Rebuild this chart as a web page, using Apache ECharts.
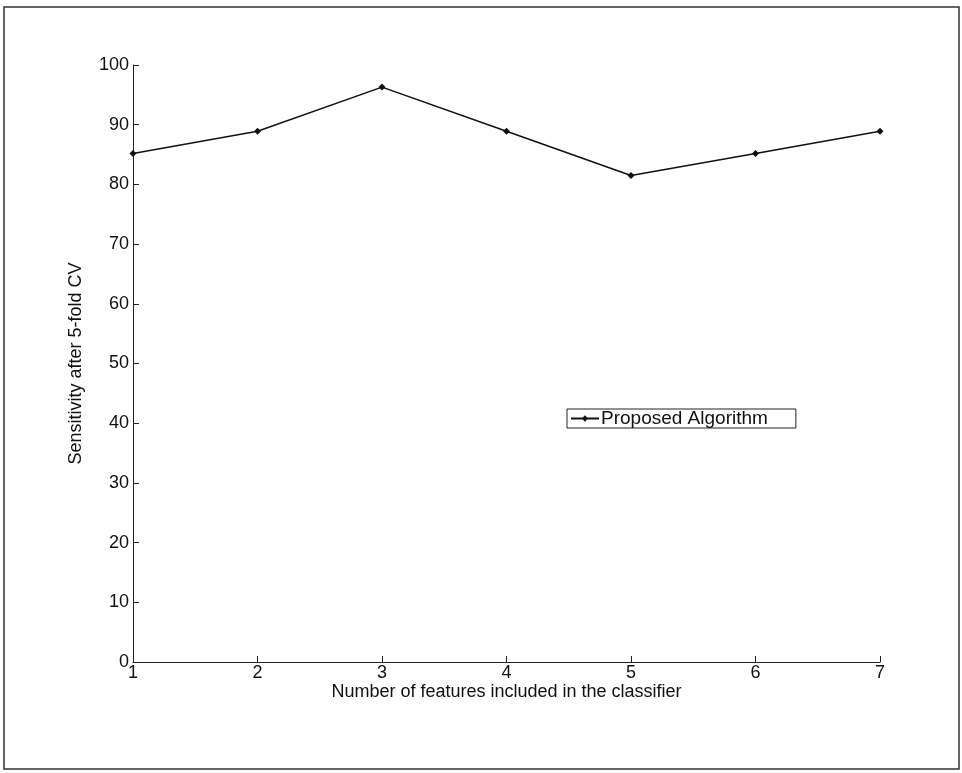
<!DOCTYPE html>
<html>
<head>
<meta charset="utf-8">
<script src="https://cdn.jsdelivr.net/npm/echarts@6/dist/echarts.min.js"></script>
<style>
  html, body { margin: 0; padding: 0; background: #fff; }
  #chart { width: 962px; height: 773px; }
</style>
</head>
<body>
<div id="chart"></div>
<script>
// number of features
const featureCounts = [1, 2, 3, 4, 5, 6, 7];
// sensitivity (%) after 5-fold CV
const sensitivity = [85.19, 88.89, 96.30, 88.89, 81.48, 85.19, 88.89];
const yTicks = [0, 10, 20, 30, 40, 50, 60, 70, 80, 90, 100];

const chart = echarts.init(document.getElementById('chart'));
const font = 'Liberation Sans, Arial, sans-serif';

const option = {
  backgroundColor: '#fff',
  animation: false,
  grid: { left: 133, right: 82, top: 65, bottom: 111 },
  legend: {
    left: 567,
    top: 409,
    data: ['Proposed Algorithm'],
    itemWidth: 28,
    itemHeight: 8,
    itemGap: 4,
    borderColor: '#222',
    borderWidth: 1,
    padding: [0, 28, 0, 3],
    textStyle: { fontFamily: font, fontSize: 19, color: '#111', padding: [0, 0, 0, -3] }
  },
  xAxis: {
    type: 'value',
    min: 1,
    max: 7,
    interval: 1,
    name: 'Number of features included in the classifier',
    nameLocation: 'middle',
    nameGap: 21,
    nameMoveOverlap: false,
    nameTextStyle: { fontFamily: font, fontSize: 18, color: '#111' },
    axisLine: { lineStyle: { color: '#222', width: 1 } },
    axisTick: { inside: true, length: 6, lineStyle: { color: '#222' } },
    axisLabel: { fontFamily: font, fontSize: 18, color: '#111', margin: 2 },
    splitLine: { show: false }
  },
  yAxis: {
    type: 'value',
    min: 0,
    max: 100,
    interval: 10,
    name: 'Sensitivity after 5-fold CV',
    nameLocation: 'middle',
    nameGap: 48,
    nameMoveOverlap: false,
    nameTextStyle: { fontFamily: font, fontSize: 18, color: '#111' },
    axisLine: { show: true, lineStyle: { color: '#222', width: 1 } },
    axisTick: { show: true, inside: true, length: 6, lineStyle: { color: '#222' } },
    axisLabel: {
      fontFamily: font, fontSize: 18, color: '#111', margin: 4,
      formatter: v => (yTicks.includes(v) ? String(v) : '')
    },
    splitLine: { show: false }
  },
  series: [
    {
      name: 'Proposed Algorithm',
      type: 'line',
      data: featureCounts.map((x, i) => [x, sensitivity[i]]),
      symbol: 'diamond',
      symbolSize: 7,
      showAllSymbol: true,
      lineStyle: { color: '#111', width: 1.5 },
      itemStyle: { color: '#111' }
    }
  ],
  graphic: [
    {
      type: 'rect',
      shape: { x: 4, y: 7, width: 955, height: 762 },
      style: { fill: 'none', stroke: '#333', lineWidth: 1.5 },
      silent: true
    }
  ]
};

chart.setOption(option);
</script>
</body>
</html>
